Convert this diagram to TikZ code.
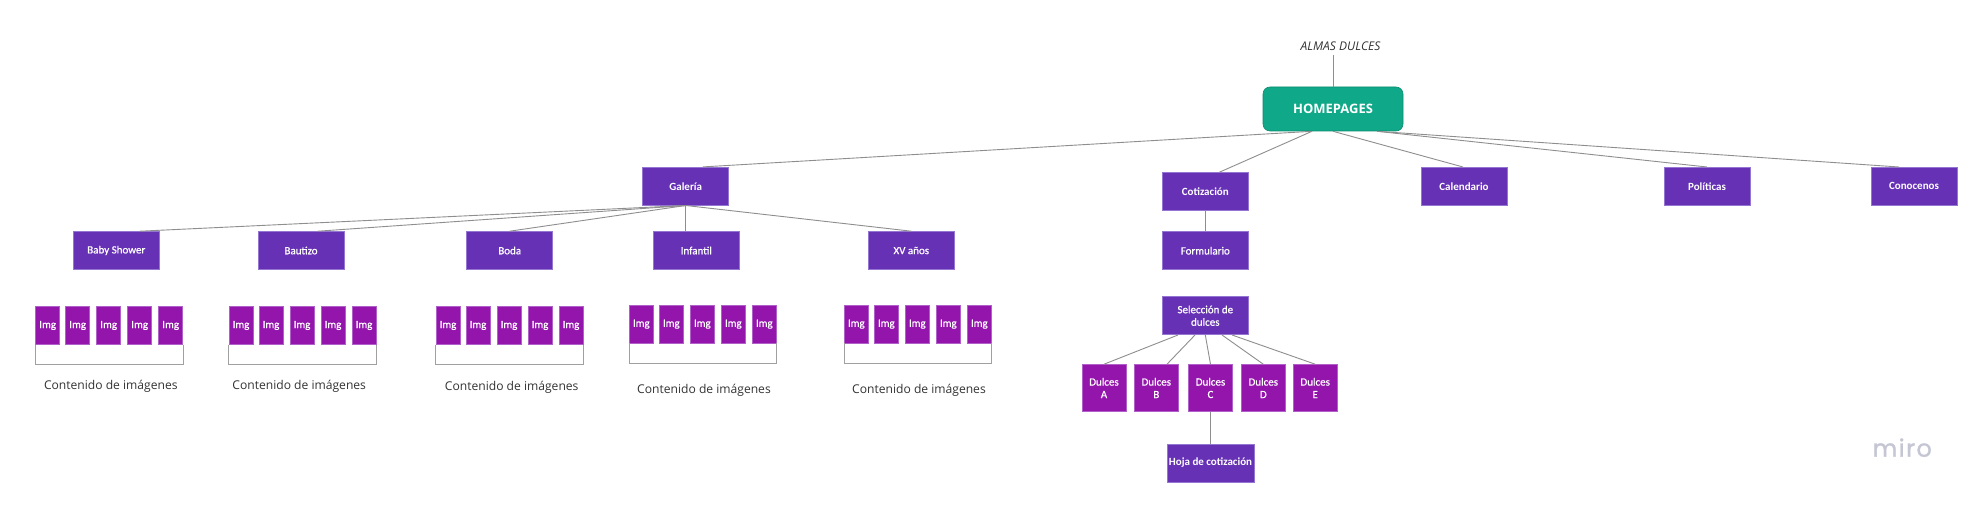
\documentclass[tikz,border=0pt]{standalone}
\usepackage{fontspec}
\setmainfont{Carlito}
\newfontfamily\medfont[FakeBold=0.6]{Carlito}
\newfontfamily\osans{Open Sans}
\newfontfamily\popfont[FakeBold=1.2,LetterSpace=6]{Poppins}
\definecolor{mpurple}{HTML}{6631B4}
\definecolor{mborder}{HTML}{9575D2}
\definecolor{mmag}{HTML}{9315AC}
\definecolor{mmagb}{HTML}{B060C8}
\definecolor{mteal}{HTML}{0FA888}
\definecolor{mtealb}{HTML}{0B8C70}
\definecolor{linec}{HTML}{8E8E8E}
\definecolor{brc}{HTML}{A0A0A0}
\definecolor{textc}{HTML}{333333}
\definecolor{miroc}{HTML}{C4C6D3}
\begin{document}
\begin{tikzpicture}[x=1pt,y=-1pt,
  box/.style={rectangle, fill=mpurple, draw=mborder, line width=0.6pt, text=white,
    minimum width=86pt, minimum height=38pt, inner sep=2pt, align=center,
    font=\medfont\fontsize{11}{12.5}\selectfont},
  boldbox/.style={box, font=\fontsize{11}{12.5}\selectfont\bfseries},
  dbox/.style={box, fill=mmag, draw=mmagb, minimum width=44pt, minimum height=47pt},
  imgbox/.style={rectangle, fill=mmag, draw=mmagb, line width=0.5pt, minimum width=24pt,
    minimum height=38pt, inner sep=0pt, text=white, font=\medfont\fontsize{11}{12.5}\selectfont},
  homebox/.style={rectangle, rounded corners=7pt, fill=mteal, draw=mtealb, line width=0.6pt,
    minimum width=140pt, minimum height=44pt, text=white, font=\osans\bfseries\fontsize{13}{15}\selectfont},
  conn/.style={draw=linec, line width=0.9pt},
  bracket/.style={draw=brc, line width=0.9pt},
  caption/.style={font=\osans\fontsize{12.1}{14}\selectfont, text=textc},
  titletext/.style={font=\osans\itshape\fontsize{12}{14}\selectfont, text=textc}
]
\useasboundingbox (0,0) rectangle (1979,505);
\fill[white] (0,0) rectangle (1979,505);

% title and home
\node[titletext] (title) at (1340.5,46.7) {ALMAS DULCES};
\coordinate (tline) at (1333,55);
\node[homebox] (hp) at (1333,109) {HOMEPAGES};

% first level
\node[boldbox] (gal) at (685.7,186.2) {Galería};
\node[boldbox] (cot) at (1205.3,191.7) {Cotización};
\node[boldbox] (cal) at (1464,186.3) {Calendario};
\node[boldbox] (pol) at (1707,186.3) {Políticas};
\node[boldbox] (con) at (1914,186.3) {Conocenos};

% gallery children
\node[box] (bs) at (116.3,250.5) {Baby Shower};
\node[box] (bau) at (301,250.5) {Bautizo};
\node[box] (boda) at (509.7,250.5) {Boda};
\node[box] (inf) at (696.3,250.5) {Infantil};
\node[box] (xv) at (911.3,250.5) {XV años};

% quotation branch
\node[box] (form) at (1205.3,250.7) {Formulario};
\node[box] (sel) at (1205.3,315.7) {Selección de\\dulces};
\node[dbox] (dA) at (1104,388) {Dulces\\A};
\node[dbox] (dB) at (1156.3,388) {Dulces\\B};
\node[dbox] (dC) at (1210.5,388) {Dulces\\C};
\node[dbox] (dD) at (1263.3,388) {Dulces\\D};
\node[dbox] (dE) at (1315.2,388) {Dulces\\E};
\node[boldbox] (hoja) at (1210.5,463) {Hoja de cotización};

% image groups
\foreach \g/\x/\y in {bs/35.7/325.5, bau/229/325.5, boda/436/325.5, inf/629.3/324.2, xv/844.3/324.2} {
  \foreach \i/\o in {1/0,2/30,3/61,4/92,5/123} {
    \node[imgbox] (\g-img\i) at (\x+\o+12,\y) {Img};
  }
  \draw[bracket] (\g-img1.south west) -- ++(0,20) -| (\g-img5.south east);
}
\node[caption] (bscap) at (110.8,386.7) {Contenido de imágenes};
\node[caption] (baucap) at (299.2,386.7) {Contenido de imágenes};
\node[caption] (bodacap) at (511.7,387.7) {Contenido de imágenes};
\node[caption] (infcap) at (704,390.7) {Contenido de imágenes};
\node[caption] (xvcap) at (919,390.7) {Contenido de imágenes};

% connectors
\draw[conn] (tline) -- (hp.north);
\draw[conn] ([xshift=-21pt]hp.south) -- ([xshift=17.3pt]gal.north);
\draw[conn] ([xshift=-21pt]hp.south) -- ([xshift=13.7pt]cot.north);
\draw[conn] (hp.south) -- ([xshift=-1pt]cal.north);
\draw[conn] ([xshift=44pt]hp.south) -- (pol.north);
\draw[conn] ([xshift=44pt]hp.south) -- ([xshift=-15pt]con.north);

\draw[conn] (gal.south) -- ([xshift=23.7pt]bs.north);
\draw[conn] (gal.south) -- ([xshift=17pt]bau.north);
\draw[conn] (gal.south) -- (boda.north);
\draw[conn] (gal.south) -- (gal.south |- inf.north);
\draw[conn] (gal.south) -- (xv.north);

\draw[conn] (cot.south) -- (form.north);
\draw[conn] ([xshift=-27.3pt]sel.south) -- (dA.north);
\draw[conn] ([xshift=-10.3pt]sel.south) -- ([xshift=10.7pt]dB.north);
\draw[conn] (sel.south) -- (dC.north);
\draw[conn] ([xshift=16.7pt]sel.south) -- (dD.north);
\draw[conn] ([xshift=26.7pt]sel.south) -- (dE.north);
\draw[conn] (dC.south) -- (hoja.north);

% watermark
\node[font=\popfont\fontsize{24}{26}\selectfont, text=miroc, anchor=base] (logo) at (1902.2,456.7) {miro};
\end{tikzpicture}
\end{document}
